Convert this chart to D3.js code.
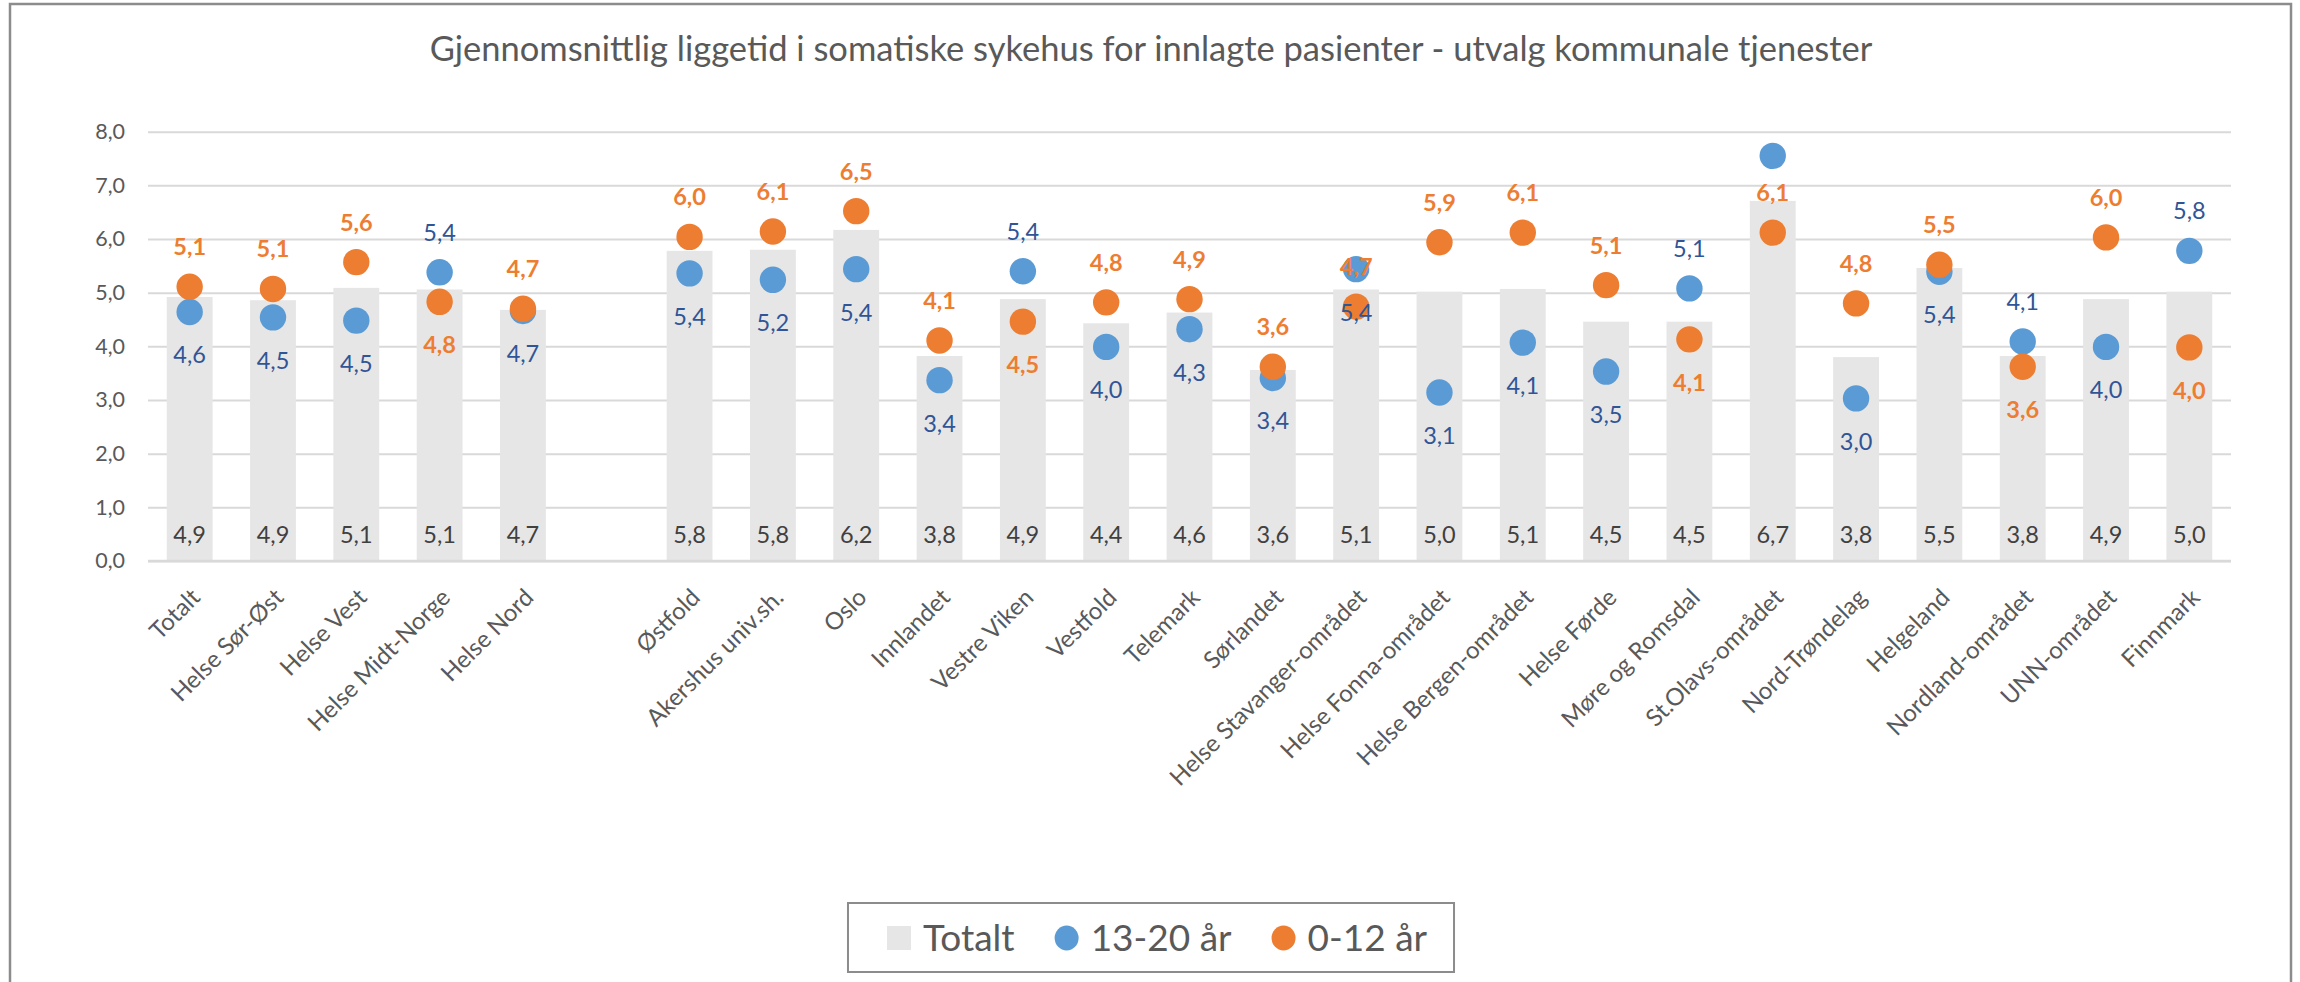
<!DOCTYPE html>
<html>
<head>
<meta charset="utf-8">
<script src="https://cdn.jsdelivr.net/npm/d3@7"></script>
<style>
  html, body { margin: 0; padding: 0; background: #fff; }
  svg { display: block; }
  text { font-family: Lato, "Open Sans", sans-serif; }
</style>
</head>
<body>
<svg id="chart" width="2300" height="982"></svg>
<script>
// ---------- DATA ----------
const title = "Gjennomsnittlig liggetid i somatiske sykehus for innlagte pasienter - utvalg kommunale tjenester";

const categories = ["Totalt","Helse Sør-Øst","Helse Vest","Helse Midt-Norge","Helse Nord","",
  "Østfold","Akershus univ.sh.","Oslo","Innlandet","Vestre Viken","Vestfold","Telemark","Sørlandet",
  "Helse Stavanger-området","Helse Fonna-området","Helse Bergen-området","Helse Førde","Møre og Romsdal",
  "St.Olavs-området","Nord-Trøndelag","Helgeland","Nordland-området","UNN-området","Finnmark"];

const totalt  = [4.92,4.86,5.09,5.06,4.68,null,5.78,5.80,6.17,3.82,4.88,4.43,4.63,3.56,5.06,5.02,5.07,4.46,4.46,6.71,3.80,5.46,3.82,4.88,5.02];
const age1320 = [4.64,4.54,4.48,5.38,4.66,null,5.36,5.24,5.44,3.37,5.40,3.99,4.32,3.41,5.44,3.14,4.07,3.53,5.08,7.55,3.03,5.39,4.09,3.99,5.78];
const age012  = [5.11,5.07,5.57,4.83,4.70,null,6.04,6.14,6.52,4.11,4.46,4.82,4.88,3.62,4.74,5.94,6.12,5.14,4.13,6.12,4.80,5.52,3.62,6.03,3.98];

// categories where the 13-20 label sits above its dot (0-12 label then below)
const blueLabelAbove = ["Helse Midt-Norge","Vestre Viken","Møre og Romsdal","Nordland-området","Finnmark"];
// categories where the 13-20 label is not shown
const blueLabelHidden = ["St.Olavs-området"];

const yTicks = [0,1,2,3,4,5,6,7,8];
const seriesNames = ["Totalt","13-20 år","0-12 år"];

// ---------- STYLE ----------
const colBar = "#E7E6E6", colBlue = "#5B9BD5", colOrange = "#ED7D31";
const colBlueLbl = "#2F5597", colText = "#595959", colBarLbl = "#404040", colGrid = "#D9D9D9";

const plot = {left: 148, right: 2231, top: 131.7, bottom: 561};

const svg = d3.select("#chart");
const fmt = v => d3.format(".1f")(v).replace(".", ",");

// border
svg.append("rect").attr("x", 10).attr("y", 4).attr("width", 2281).attr("height", 1000)
  .attr("fill", "#fff").attr("stroke", "#8C8C8C").attr("stroke-width", 2.5);

// title
svg.append("text").attr("x", 1151).attr("y", 61).attr("text-anchor", "middle")
  .attr("font-size", 34.5).attr("fill", colText).text(title);

const x = d3.scaleBand().domain(categories.map((c, i) => i))
  .range([plot.left, plot.right]).paddingInner(0.45).paddingOuter(0.225);
const y = d3.scaleLinear().domain([0, 8]).range([plot.bottom, plot.top]);

// grid + y axis
const yAxis = d3.axisLeft(y).tickValues(yTicks).tickFormat(fmt)
  .tickSizeInner(-(plot.right - plot.left)).tickSizeOuter(0).tickPadding(23);
const gy = svg.append("g").attr("transform", `translate(${plot.left},0)`).call(yAxis);
gy.select(".domain").remove();
gy.selectAll(".tick line").attr("stroke", colGrid).attr("stroke-width", 2);
gy.selectAll(".tick text").attr("font-size", 21.5).attr("fill", colText)
  .attr("font-family", "Lato, sans-serif");

const rows = categories.map((c, i) => ({i, c, t: totalt[i], b: age1320[i], o: age012[i]}))
  .filter(d => d.t !== null);

// bars
svg.append("g").selectAll("rect").data(rows).join("rect")
  .attr("x", d => x(d.i)).attr("width", x.bandwidth())
  .attr("y", d => y(d.t)).attr("height", d => y(0) - y(d.t))
  .attr("fill", colBar);

// axis line on top of bars
svg.append("line").attr("x1", plot.left).attr("x2", plot.right)
  .attr("y1", y(0)).attr("y2", y(0)).attr("stroke", colGrid).attr("stroke-width", 2.5);

// x axis labels
const xAxis = d3.axisBottom(x).tickSize(0).tickFormat(i => categories[i]);
const gx = svg.append("g").attr("transform", `translate(0,${plot.bottom})`).call(xAxis);
gx.select(".domain").remove();
gx.selectAll(".tick text")
  .attr("font-size", 24).attr("fill", colText).attr("font-family", "Lato, sans-serif")
  .attr("text-anchor", "end").attr("dy", 0).attr("y", 0)
  .attr("transform", "translate(12,38) rotate(-45)");

const cx = d => x(d.i) + x.bandwidth() / 2;

// dots
svg.append("g").selectAll("circle").data(rows).join("circle")
  .attr("cx", cx).attr("cy", d => y(d.b)).attr("r", 13.2).attr("fill", colBlue);
svg.append("g").selectAll("circle").data(rows).join("circle")
  .attr("cx", cx).attr("cy", d => y(d.o)).attr("r", 13.2).attr("fill", colOrange);

// bar labels
svg.append("g").selectAll("text").data(rows).join("text")
  .attr("x", cx).attr("y", y(0) - 26).attr("dy", "0.36em").attr("text-anchor", "middle")
  .attr("font-size", 23.5).attr("fill", colBarLbl).text(d => fmt(d.t));

// blue labels
svg.append("g").selectAll("text").data(rows.filter(d => !blueLabelHidden.includes(d.c))).join("text")
  .attr("x", cx)
  .attr("y", d => blueLabelAbove.includes(d.c) ? y(d.b) - 40 : y(d.b) + 43)
  .attr("dy", "0.36em").attr("text-anchor", "middle")
  .attr("font-size", 23.5).attr("fill", colBlueLbl).text(d => fmt(d.b));

// orange labels
svg.append("g").selectAll("text").data(rows).join("text")
  .attr("x", cx)
  .attr("y", d => blueLabelAbove.includes(d.c) ? y(d.o) + 43 : y(d.o) - 40)
  .attr("dy", "0.36em").attr("text-anchor", "middle")
  .attr("font-size", 23.5).attr("font-weight", "bold").attr("fill", colOrange).text(d => fmt(d.o));

// legend
const lg = svg.append("g");
const box = lg.append("rect").attr("y", 903).attr("height", 69)
  .attr("fill", "#fff").attr("stroke", "#8C8C8C").attr("stroke-width", 2);
const items = [
  {name: seriesNames[0], type: "rect", color: colBar},
  {name: seriesNames[1], type: "circle", color: colBlue},
  {name: seriesNames[2], type: "circle", color: colOrange}
];
let cursor = 0;
const content = lg.append("g");
items.forEach((it, k) => {
  if (k > 0) cursor += 40;
  if (it.type === "rect") {
    content.append("rect").attr("x", cursor).attr("y", 926).attr("width", 24).attr("height", 24).attr("fill", it.color);
  } else {
    content.append("ellipse").attr("cx", cursor + 12).attr("cy", 938).attr("rx", 12).attr("ry", 12.5).attr("fill", it.color);
  }
  cursor += 24 + 12;
  const t = content.append("text").attr("x", cursor).attr("y", 950.5)
    .attr("font-size", 37).attr("fill", colText).text(it.name);
  cursor += t.node().getComputedTextLength();
});
const contentW = cursor;
const boxW = contentW + 66;
const boxX = 1151 - boxW / 2;
box.attr("x", boxX).attr("width", boxW);
content.attr("transform", `translate(${boxX + 39},0)`);
</script>
</body>
</html>
